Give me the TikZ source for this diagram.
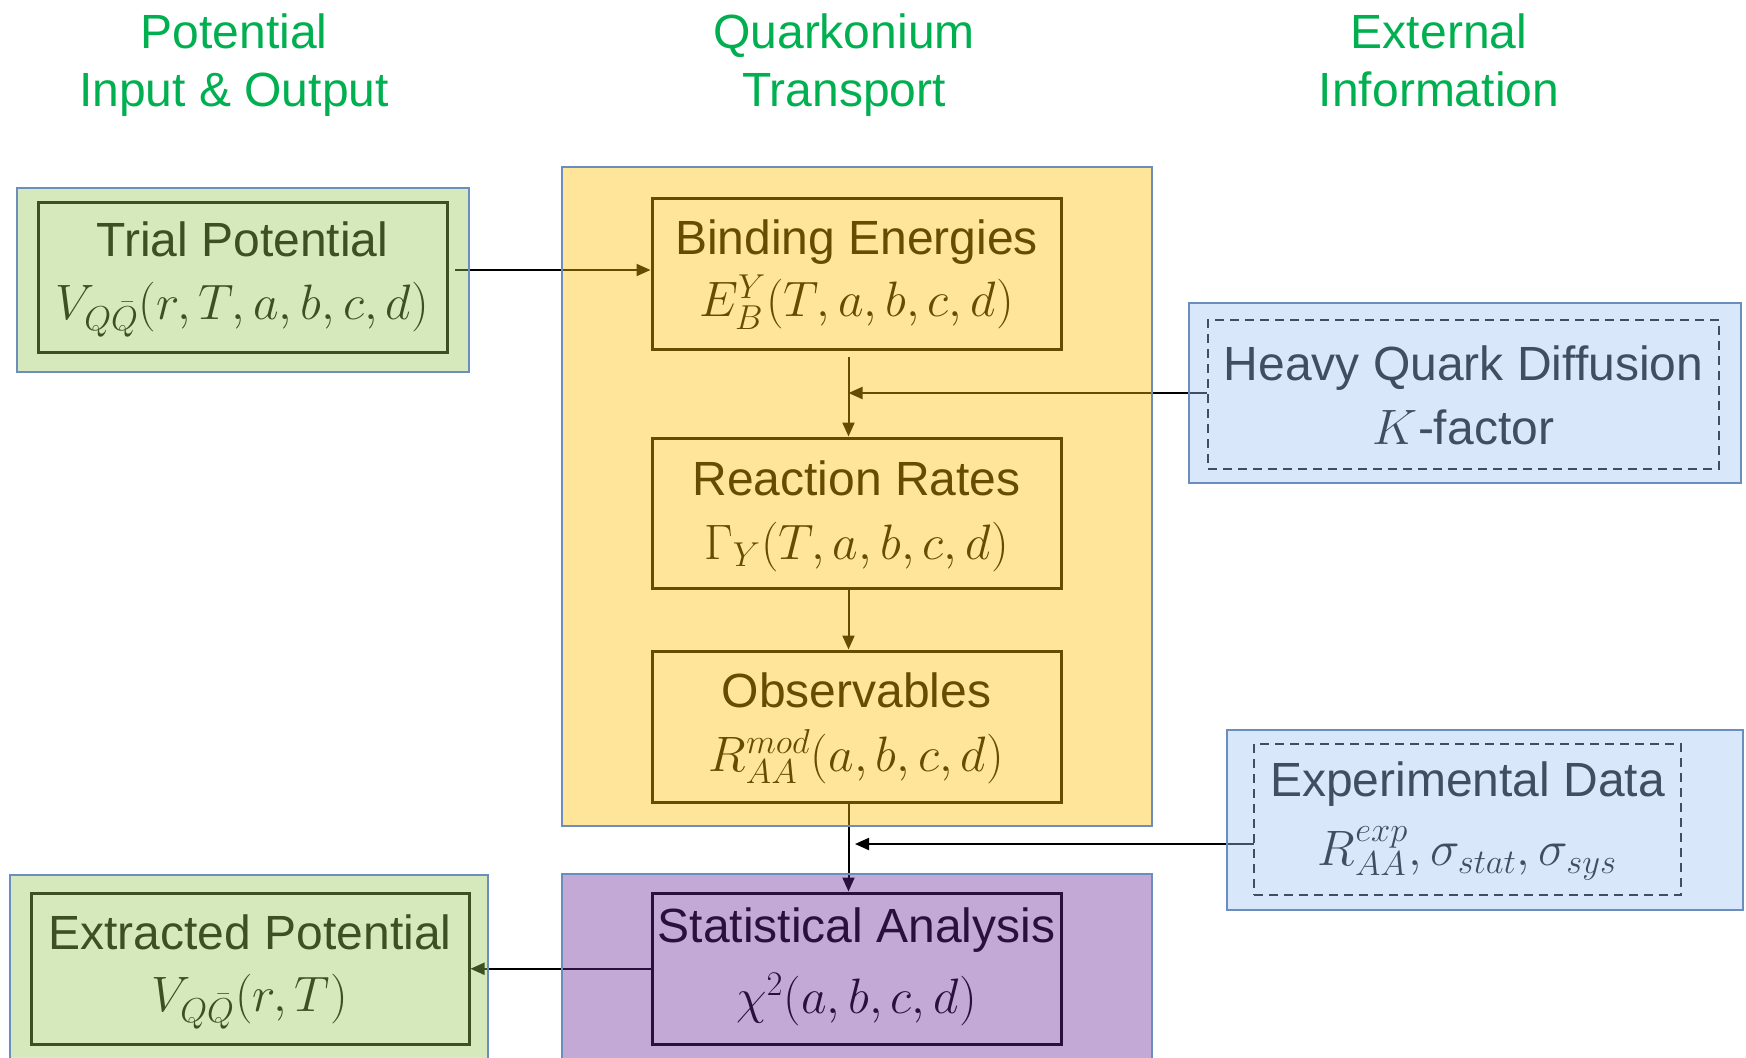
\documentclass[tikz,border=0pt]{standalone}
\usepackage{fontspec}
\setmainfont{Liberation Sans}
\usetikzlibrary{arrows.meta}
\definecolor{hdr}{RGB}{0,176,80}
\definecolor{bord}{RGB}{108,142,191}
\definecolor{cy}{RGB}{255,190,0}
\definecolor{cg}{RGB}{150,202,92}
\definecolor{cb}{RGB}{162,197,247}
\definecolor{cp}{RGB}{107,42,152}
% two lines of text: #1 label, #2 second line, #3 strut height of first line (pt)
\newcommand\twolines[3]{\rule{0pt}{#3pt}#1\\\rule[-10pt]{0pt}{10pt}#2}
\begin{document}
\begin{tikzpicture}[x=0.5pt,y=-0.5pt,
  inbox/.style={draw=black, line width=1.5pt, align=center, inner sep=0pt},
  gap/.style={font={\fontsize{24}{#1}\selectfont}},
  dbox/.style={inbox, dash pattern=on 4.5pt off 3pt, line width=1pt},
  outbox/.style={draw=bord, line width=1pt, fill opacity=0.4, inner sep=0pt},
  arr/.style={line width=1pt, -{Triangle[length=7pt,width=6pt]}},
  hdrtxt/.style={text=hdr, align=center, inner sep=0pt, anchor=north, font=\fontsize{24}{29}\selectfont}]
\useasboundingbox (0,0) rectangle (1746,1057);
\fill[white] (0,0) rectangle (1746,1057);

% headers
\node[hdrtxt] (h1) at (234,8) {\rule{0pt}{20pt}Potential\\Input \& Output};
\node[hdrtxt] (h2) at (844,8) {\rule{0pt}{20pt}Quarkonium\\Transport};
\node[hdrtxt] (h3) at (1439,8) {\rule{0pt}{20pt}External\\Information};

% inner boxes
\node[inbox, gap=31.25pt, minimum width=204.5pt, minimum height=75pt] (trialI) at (242.5,277)
  {\twolines{Trial Potential}{$V_{Q\bar{Q}}(r,T,a,b,c,d)$}{21.05}};
\node[inbox, gap=31.2pt, minimum width=204.5pt, minimum height=75.5pt] (bind) at (856.5,273.5)
  {\twolines{Binding Energies}{$E_B^{Y}(T,a,b,c,d)$}{22.2}};
\node[inbox, gap=31.85pt, minimum width=204.5pt, minimum height=75pt] (react) at (856.5,513)
  {\twolines{Reaction Rates}{$\Gamma_{Y}(T,a,b,c,d)$}{24.35}};
\node[inbox, gap=32.3pt, minimum width=204.5pt, minimum height=75.5pt] (obs) at (856.5,726.5)
  {\twolines{Observables}{$R_{AA}^{mod}(a,b,c,d)$}{22.8}};
\node[inbox, gap=35.5pt, minimum width=204.5pt, minimum height=75.75pt] (stat) at (856.5,968.75)
  {\twolines{Statistical Analysis}{$\chi^2(a,b,c,d)$}{19.2}};
\node[inbox, gap=30.7pt, minimum width=219pt, minimum height=75.5pt] (extI) at (250,969)
  {\twolines{Extracted Potential}{$V_{Q\bar{Q}}(r,T)$}{21.4}};
\node[dbox, gap=31.7pt, minimum width=255.5pt, minimum height=74.5pt] (hqI) at (1463.5,394.5)
  {\twolines{Heavy Quark Diffusion}{$K$-factor}{28.0}};
\node[dbox, gap=34.6pt, minimum width=213.5pt, minimum height=75.5pt] (expI) at (1467.5,819.5)
  {\twolines{Experimental Data}{$R_{AA}^{exp}, \sigma_{stat}, \sigma_{sys}$}{21.6}};

% connectors
\coordinate (t1) at (455,270);
\draw[arr] (t1) -- (t1 -| bind.west);
\coordinate (vl) at ([xshift=-4pt]bind.south);
\draw[arr] ([xshift=-4pt,yshift=-3pt]bind.south) -- ([xshift=-4pt]react.north);
\draw[arr] ([xshift=-4pt]react.south) -- ([xshift=-4pt]obs.north);
\draw[arr] ([xshift=-4pt]obs.south) -- ([xshift=-4pt]stat.north);
\draw[arr] (hqI.west |- 0,393) -- (vl |- 0,393);
\coordinate (e1) at (1254,844);
\coordinate (e2) at (855,844);
\draw[arr] (e1) -- (e2);
\draw[arr] (stat.west) -- (extI.east |- stat.west);

% translucent outer boxes
\node[outbox, fill=cg, minimum width=226pt, minimum height=92pt] (trialO) at (243,280) {};
\node[outbox, fill=cy, minimum width=295pt, minimum height=329.5pt] (yel) at (857,496.5) {};
\node[outbox, fill=cp, minimum width=295pt, minimum height=95.5pt] (pur) at (857,969.5) {};
\node[outbox, fill=cg, minimum width=239pt, minimum height=97pt] (extO) at (249,972) {};
\node[outbox, fill=cb, minimum width=276pt, minimum height=90pt] (hqO) at (1465,393) {};
\node[outbox, fill=cb, minimum width=258pt, minimum height=90pt] (expO) at (1485,820) {};
\end{tikzpicture}
\end{document}
